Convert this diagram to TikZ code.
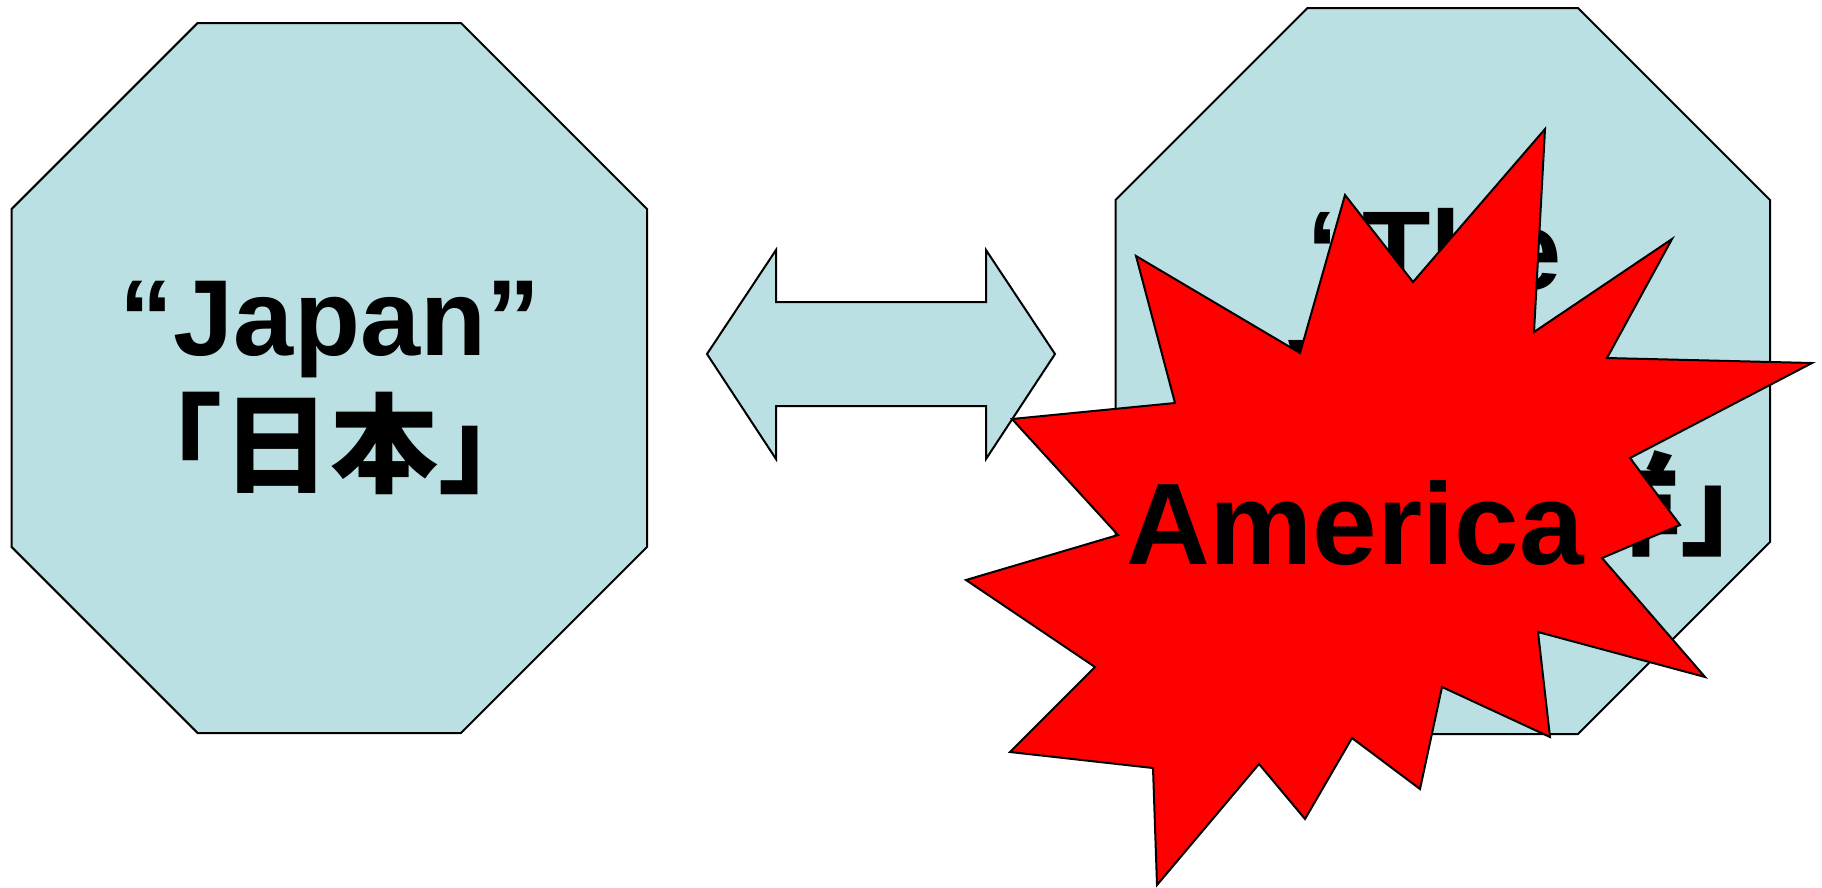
\documentclass[tikz,border=0pt]{standalone}
\usepackage{fontspec}
\setmainfont{Liberation Sans}
\newfontfamily\cjk{Noto Sans CJK JP}
\definecolor{octfill}{RGB}{187,224,227}
\definecolor{starred}{RGB}{255,0,0}
\tikzset{
  octa/.style={draw=black, fill=octfill, line width=2pt, line join=miter},
  starshape/.style={draw=black, fill=starred, line width=2pt, line join=miter},
  jtxt/.style={inner sep=0pt, font=\fontsize{108}{130}\selectfont\bfseries},
  wtxt/.style={inner sep=0pt, font=\fontsize{112}{130}\selectfont\bfseries},
  atxt/.style={inner sep=0pt, font=\fontsize{116}{130}\selectfont\bfseries},
}
\begin{document}
\begin{tikzpicture}[x=1pt,y=-1pt]
\useasboundingbox (0,0) rectangle (1822,887);
% left octagon
\draw[octa] (197.6,23) -- (461,23) -- (647,209) -- (647,547) -- (461,733) -- (197.6,733) -- (11.6,547) -- (11.6,209) -- cycle;
\node[jtxt, anchor=base] (jp1) at (330,355) {“Japan”};
\node[jtxt, anchor=base] (jp2) at (330,484) {\cjk\bfseries 「日本」};
% double arrow
\draw[octa] (707,354) -- (776,250) -- (776,302) -- (986,302) -- (986,250) -- (1055,354)
  -- (986,459) -- (986,406) -- (776,406) -- (776,459) -- cycle;
% right octagon
\draw[octa] (1307.5,8) -- (1578,8) -- (1770,200) -- (1770,542) -- (1578,734) -- (1307.5,734) -- (1115.5,542) -- (1115.5,200) -- cycle;
\node[wtxt, anchor=base west] (w1) at (1306,289) {“The};
\node[wtxt, anchor=base west] (w2) at (1288,417) {West”};
\node[wtxt, anchor=base east] (w3) at (1793,546) {\cjk\bfseries 「西洋」};
% explosion
\draw[starshape] (1345,195) -- (1413,282) -- (1545,129) -- (1534,332) -- (1672,239) -- (1607,358)
  -- (1812,363) -- (1630,458) -- (1680,525) -- (1602,558) -- (1705,677) -- (1538,632)
  -- (1550,737) -- (1442,687) -- (1420,789) -- (1352,738) -- (1305,819) -- (1259,764)
  -- (1157,885) -- (1153,768) -- (1010,752) -- (1095,667) -- (966,580) -- (1118,535)
  -- (1012,419) -- (1175,403) -- (1136,256) -- (1300,353) -- cycle;
\node[atxt, anchor=base] (am) at (1355,564) {America};
\end{tikzpicture}
\end{document}
